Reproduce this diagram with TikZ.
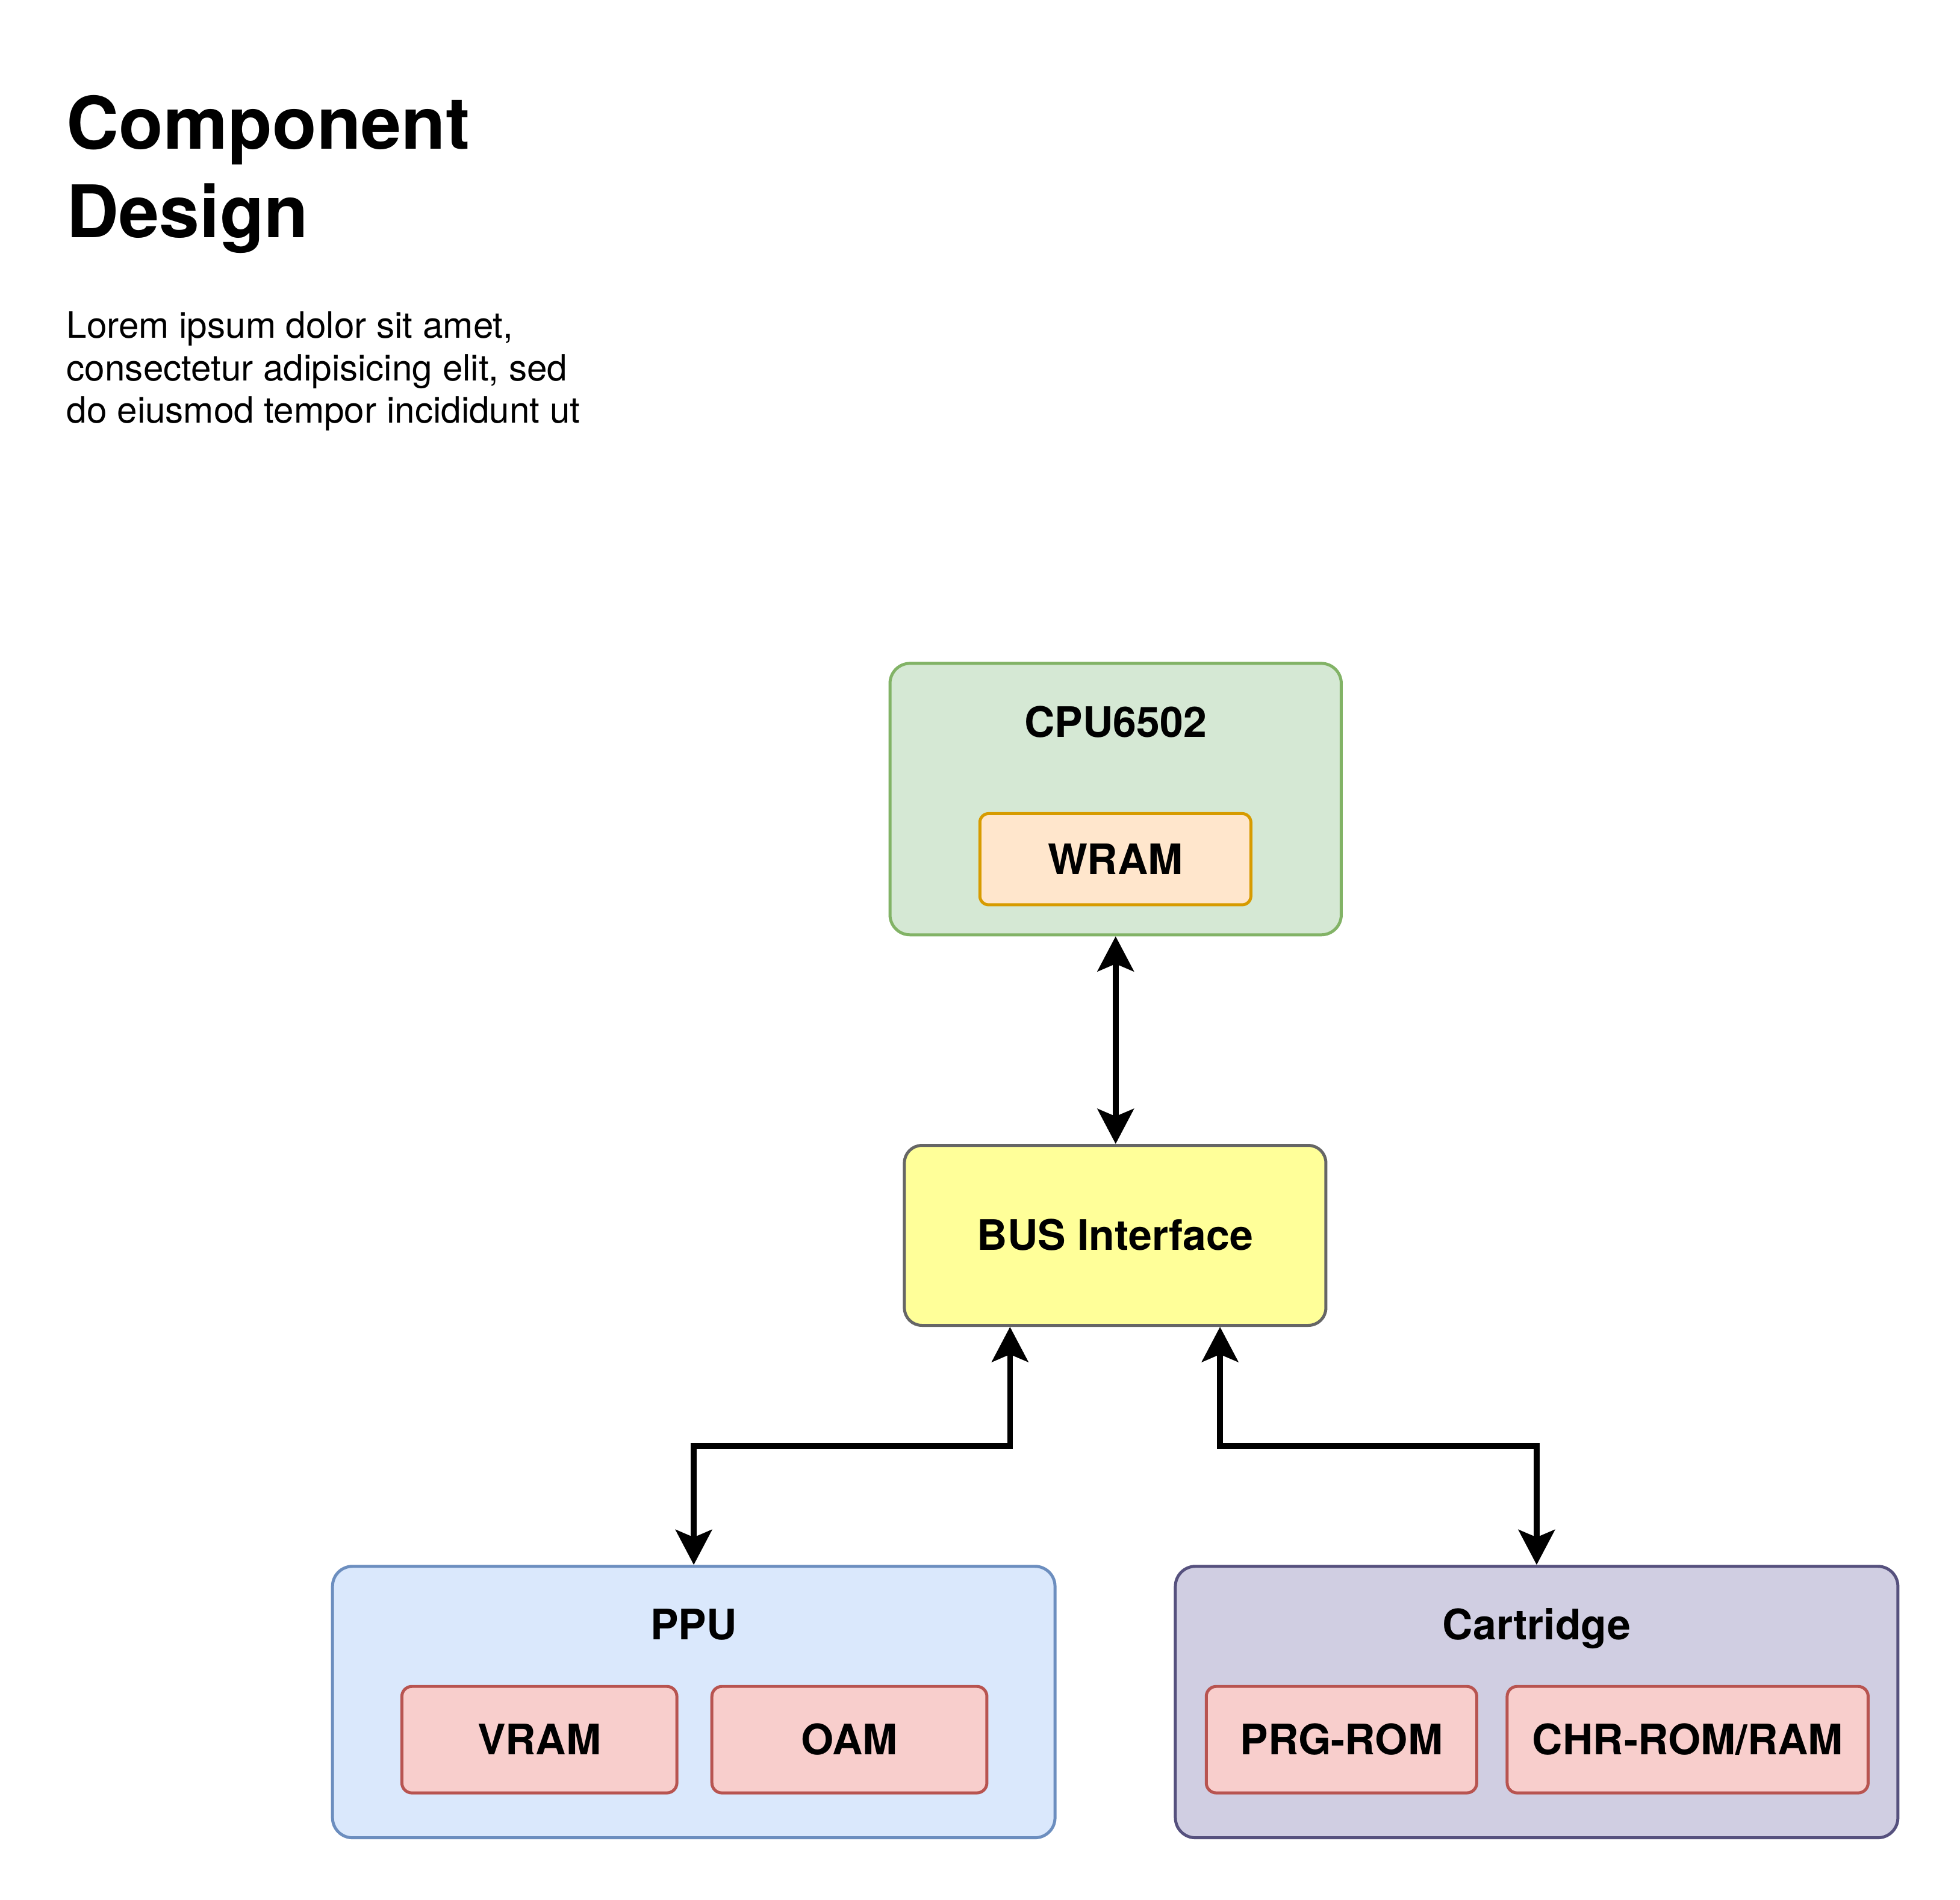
\documentclass[tikz,border=0pt]{standalone}
\usepackage{fontspec}
\setmainfont{TeX Gyre Heros}
\usetikzlibrary{arrows.meta}
\definecolor{cpufill}{HTML}{D5E8D4}
\definecolor{cpudraw}{HTML}{82B366}
\definecolor{wramfill}{HTML}{FFE6CC}
\definecolor{wramdraw}{HTML}{D79B00}
\definecolor{busfill}{HTML}{FFFF99}
\definecolor{busdraw}{HTML}{666666}
\definecolor{ppufill}{HTML}{DAE8FC}
\definecolor{ppudraw}{HTML}{6C8EBF}
\definecolor{cartfill}{HTML}{D0CEE2}
\definecolor{cartdraw}{HTML}{56517E}
\definecolor{memfill}{HTML}{F8CECC}
\definecolor{memdraw}{HTML}{B85450}
\tikzset{
  container/.style={draw, line width=1.2pt, rounded corners=8pt, inner sep=0pt,
    minimum width=#1},
  bigbox/.style={container=289pt, minimum height=108.6pt},
  membox/.style={draw=memdraw, fill=memfill, line width=1.2pt, rounded corners=4pt,
    inner sep=0pt, minimum height=42.6pt, text height=12pt, text depth=0pt,
    font=\fontsize{16.8}{20}\selectfont\bfseries},
  lbl/.style={inner sep=0pt, anchor=base, font=\fontsize{16.8}{20}\selectfont\bfseries},
  titletxt/.style={inner sep=0pt, anchor=base west, font=\fontsize{29}{35}\selectfont\bfseries},
  bodytxt/.style={inner sep=0pt, anchor=base west, font=\fontsize{14.5}{17}\selectfont},
  conn/.style={{Stealth[length=14pt,width=14.5pt,inset=3pt]}-{Stealth[length=14pt,width=14.5pt,inset=3pt]},
    line width=2.3pt, line join=miter}
}
\begin{document}
\begin{tikzpicture}[x=0.5pt,y=-0.5pt]
\useasboundingbox[fill=white] (0,0) rectangle (1568,1520);

% title and text
\node[titletxt] (t1) at (53,119) {Component};
\node[titletxt] (t2) at (53,190) {Design};
\node[bodytxt] (b1) at (53,270.5) {Lorem ipsum dolor sit amet,};
\node[bodytxt] (b2) at (53,304.5) {consectetur adipisicing elit, sed};
\node[bodytxt] (b3) at (53,338.5) {do eiusmod tempor incididunt ut};

% CPU
\node[container=180.5pt, minimum height=108.6pt, draw=cpudraw, fill=cpufill] (cpu) at (892.5,639.4) {};
\node[lbl] (cpulbl) at (892.5,590) {CPU6502};
\node[membox, draw=wramdraw, fill=wramfill, minimum width=108.4pt, minimum height=36.5pt, rounded corners=3.5pt] (wram) at (892.3,687.5) {WRAM};

% BUS
\node[container=168.6pt, minimum height=72pt, draw=busdraw, fill=busfill, rounded corners=7pt,
  text height=12pt, text depth=0pt, font=\fontsize{16.8}{20}\selectfont\bfseries] (bus) at (892.1,988.5) {BUS Interface};

% PPU
\node[bigbox, draw=ppudraw, fill=ppufill] (ppu) at (555,1361.9) {};
\node[lbl] (ppulbl) at (555,1312) {PPU};
\node[membox, minimum width=110pt] (vram) at (431.5,1392) {VRAM};
\node[membox, minimum width=110pt] (oam) at (679.5,1392) {OAM};

% Cartridge
\node[bigbox, draw=cartdraw, fill=cartfill] (cart) at (1229.3,1361.9) {};
\node[lbl] (cartlbl) at (1229.3,1312) {Cartridge};
\node[membox, minimum width=108.2pt] (prg) at (1073.2,1392) {PRG-ROM};
\node[membox, minimum width=144.4pt] (chr) at (1350.1,1392) {CHR-ROM/RAM};

% connectors
\coordinate (bl) at (808,1157);
\coordinate (br) at (976,1157);
\draw[conn] (cpu.south) -- (cpu.south |- bus.north);
\draw[conn] (bus.south -| bl) -- (bl) -- (bl -| ppu.north) -- (ppu.north);
\draw[conn] (bus.south -| br) -- (br) -- (br -| cart.north) -- (cart.north);
\end{tikzpicture}
\end{document}
